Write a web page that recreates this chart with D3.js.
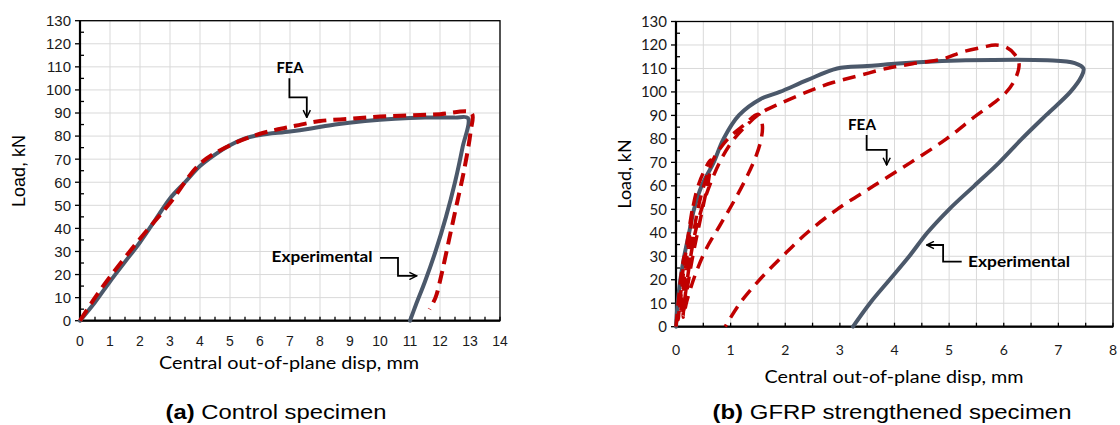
<!DOCTYPE html>
<html>
<head>
<meta charset="utf-8">
<script src="https://cdn.jsdelivr.net/npm/d3@7"></script>
<style>
  body { margin: 0; background: #fff; }
  svg { display: block; }
</style>
</head>
<body>
<svg id="fig" width="1120" height="425"></svg>
<script>
// ---- data ----
// (a) control specimen
const ctrlExpX = [0, 0.5, 1, 1.5, 2, 2.5, 3, 3.5, 4, 4.5, 5, 5.5, 6, 7, 7.7, 8.5, 9.5, 10.5, 11.5, 12.5, 12.93, 12.75, 12.5, 12.2, 11.85, 11.5, 11.2, 11.0];
const ctrlExpY = [0, 8, 17, 25.5, 34, 43.5, 53, 60, 67, 72, 76, 79, 80.5, 82, 83.3, 85, 86.5, 87.5, 88, 88, 87.8, 75, 60, 45, 30, 17, 7, 0];
const ctrlFeaX = [0, 0.5, 1, 2, 3, 4, 5, 6, 7, 8, 9, 10, 11, 12, 13.05, 13.02, 12.8, 12.55, 12.3, 12.05, 11.85, 11.65];
const ctrlFeaY = [0, 10, 19, 35.5, 51, 68, 76, 81, 84, 86.5, 87.5, 88.5, 89, 89.5, 90, 82, 65, 50, 35, 20, 10, 5];

// (b) GFRP strengthened specimen
const gfrpExpX = [0, 0.03, 0.08, 0.15, 0.24, 0.33, 0.47, 0.69, 0.87, 1.15, 1.55, 1.9, 2.4, 2.95, 3.5, 4, 4.7, 5.3, 6.8, 7.3, 7.46, 7.42, 7.22, 6.77, 6.33, 5.92, 5.46, 5.0, 4.6, 4.27, 3.91, 3.55, 3.24];
const gfrpExpY = [0, 10, 20, 30, 40, 50, 60, 70, 80, 90, 97, 100, 105, 110, 111, 112, 113, 113.5, 113.5, 112.3, 110, 106.5, 100, 90, 80, 70, 60, 50, 40, 30, 20, 10, 0];
const gfrpFeaX = [0, 0.06, 0.1, 0.15, 0.11, 0.07, 0.04,
  0.1, 0.17, 0.23, 0.3, 0.26, 0.2, 0.14, 0.08,
  0.15, 0.24, 0.32, 0.42, 0.55, 0.63, 0.6, 0.52, 0.43, 0.34, 0.26, 0.19, 0.13,
  0.25, 0.4, 0.55, 0.7, 0.95, 1.25, 1.5, 1.58, 1.56, 1.47, 1.3, 1.05, 0.8, 0.55, 0.35, 0.2, 0.13,
  0.35, 0.7, 1.0, 1.3, 1.55, 1.9, 2.4, 2.87, 3.36, 3.85, 4.33, 4.88, 5.24, 5.61, 5.85, 6.05, 6.2, 6.28, 6.22, 6.05, 5.8, 5.5, 4.95, 4.3, 3.62, 2.95, 2.4, 1.95, 1.53, 1.17, 0.9];
const gfrpFeaY = [0, 15, 23, 30, 20, 10, 3,
  15, 30, 40, 50, 40, 28, 16, 5,
  20, 38, 52, 61, 68, 71, 63, 54, 44, 34, 24, 14, 5,
  28, 50, 63, 72, 80, 86, 90.5, 86, 80, 73, 64, 53, 43, 33, 22, 11, 4,
  40, 65, 78, 86, 91, 95, 100, 104, 107, 110, 112, 114, 117, 119, 120, 119, 116, 112, 106, 100, 95, 90, 80, 70, 60, 50, 40, 30, 20, 10, 0];

const yTicks = d3.range(0, 131, 10);
const ctrlXTicks = d3.range(0, 15, 1);
const gfrpXTicks = d3.range(0, 9, 1);

const GREY = "#4b586a", RED = "#c00000";
const svg = d3.select("#fig");

svg.append("defs").append("marker")
    .attr("id", "arr")
    .attr("viewBox", "0 0 10 10")
    .attr("refX", 9).attr("refY", 5)
    .attr("markerWidth", 9).attr("markerHeight", 9)
    .attr("markerUnits", "userSpaceOnUse")
    .attr("orient", "auto")
  .append("path")
    .attr("d", "M1,1 L9,5 L1,9")
    .attr("fill", "none")
    .attr("stroke", "#000")
    .attr("stroke-width", 1.6);

function drawChart(cfg) {
  const x = d3.scaleLinear().domain(cfg.xDomain).range(cfg.xRange);
  const y = d3.scaleLinear().domain([0, 130]).range(cfg.yRange);
  const g = svg.append("g");
  const [x0, x1] = cfg.xRange, [y0, y1] = cfg.yRange;

  // grid
  g.append("g").selectAll("line").data(d3.range(cfg.xDomain[0], cfg.xDomain[1] + 1e-9, cfg.gridStep))
    .join("line")
    .attr("x1", d => x(d)).attr("x2", d => x(d))
    .attr("y1", y0).attr("y2", y1)
    .attr("stroke", "#d9d9d9").attr("stroke-width", 1);
  g.append("g").selectAll("line").data(yTicks)
    .join("line")
    .attr("x1", x0).attr("x2", x1)
    .attr("y1", d => y(d)).attr("y2", d => y(d))
    .attr("stroke", "#d9d9d9").attr("stroke-width", 1);

  // frame
  g.append("rect")
    .attr("x", x0).attr("y", y1)
    .attr("width", x1 - x0).attr("height", y0 - y1)
    .attr("fill", "none").attr("stroke", "#000").attr("stroke-width", 1.3);

  // bottom ticks (inside, every half step)
  g.append("g").selectAll("line").data(d3.range(cfg.xDomain[0], cfg.xDomain[1] + 1e-9, cfg.tickStep))
    .join("line")
    .attr("x1", d => x(d)).attr("x2", d => x(d))
    .attr("y1", y0).attr("y2", y0 - 4)
    .attr("stroke", "#000").attr("stroke-width", 1.3);
  // left ticks: major outside, minor inside
  g.append("g").selectAll("line").data(yTicks)
    .join("line")
    .attr("x1", x0 - 5).attr("x2", x0)
    .attr("y1", d => y(d)).attr("y2", d => y(d))
    .attr("stroke", "#000").attr("stroke-width", 1.3);
  g.append("g").selectAll("line").data(d3.range(5, 130, 10))
    .join("line")
    .attr("x1", x0).attr("x2", x0 + 4)
    .attr("y1", d => y(d)).attr("y2", d => y(d))
    .attr("stroke", "#000").attr("stroke-width", 1.3);

  // axis lines
  g.append("line").attr("x1", x0).attr("x2", x1).attr("y1", y0).attr("y2", y0)
    .attr("stroke", "#000").attr("stroke-width", 2.2);
  g.append("line").attr("x1", x0).attr("x2", x0).attr("y1", y0).attr("y2", y1)
    .attr("stroke", "#000").attr("stroke-width", 2.2);

  // tick labels
  g.append("g").selectAll("text").data(yTicks)
    .join("text")
    .attr("x", x0 - 9).attr("y", d => y(d)).attr("dy", "0.36em")
    .attr("text-anchor", "end")
    .style("font-family", cfg.tickFont).style("font-size", cfg.yTickSize)
    .attr("fill", "#1a1a1a")
    .text(d => d);
  g.append("g").selectAll("text").data(cfg.xTicks)
    .join("text")
    .attr("x", d => x(d)).attr("y", cfg.xLabelY).attr("dy", "0.36em")
    .attr("text-anchor", "middle")
    .style("font-family", cfg.xTickFont).style("font-size", cfg.xTickSize)
    .attr("fill", "#1a1a1a")
    .text(d => d);

  // axis titles
  g.append("text")
    .attr("x", cfg.xTitle[0]).attr("y", cfg.xTitle[1]).attr("dy", "0.36em")
    .attr("text-anchor", "middle")
    .attr("textLength", cfg.xTitle[2]).attr("lengthAdjust", "spacingAndGlyphs")
    .style("font-family", "Lato, 'Open Sans', sans-serif").style("font-size", "18px")
    .text("Central out-of-plane disp, mm");
  g.append("text")
    .attr("transform", `translate(${cfg.yTitle[0]},${cfg.yTitle[1]}) rotate(-90)`)
    .attr("dy", "0.36em")
    .attr("text-anchor", "middle")
    .style("font-family", cfg.yTitleFont).style("font-size", "18px")
    .text("Load, kN");

  // caption
  const cap = g.append("text")
    .attr("x", cfg.caption[0]).attr("y", cfg.caption[1])
    .attr("text-anchor", "middle")
    .attr("textLength", cfg.caption[2]).attr("lengthAdjust", "spacingAndGlyphs")
    .style("font-family", "'Liberation Sans', Arial, sans-serif").style("font-size", "21px");
  cap.append("tspan").style("font-weight", "bold").text(cfg.captionTag);
  cap.append("tspan").text(cfg.captionText);

  // curves
  const line = d3.line().x(d => x(d[0])).y(d => y(d[1])).curve(d3.curveCatmullRom.alpha(0.5));
  const plot = g.append("g");
  plot.append("path")
    .datum(d3.zip(cfg.expX, cfg.expY))
    .attr("d", line)
    .attr("fill", "none").attr("stroke", GREY)
    .attr("stroke-width", 4).attr("stroke-linejoin", "round").attr("stroke-linecap", "round");
  plot.append("path")
    .datum(d3.zip(cfg.feaX, cfg.feaY))
    .attr("d", line)
    .attr("fill", "none").attr("stroke", RED)
    .attr("stroke-width", cfg.feaWidth)
    .attr("stroke-dasharray", cfg.dash);

  // annotations
  const annFont = "'Lato', 'Open Sans', sans-serif";
  cfg.notes.forEach(n => {
    g.append("text")
      .attr("x", x(n.at[0])).attr("y", y(n.at[1])).attr("dy", "0.36em")
      .attr("text-anchor", "middle")
      .attr("textLength", n.len).attr("lengthAdjust", "spacingAndGlyphs")
      .style("font-family", annFont).style("font-size", "15px").style("font-weight", "bold")
      .text(n.label);
    g.append("path")
      .attr("d", d3.line().x(p => x(p[0])).y(p => y(p[1]))(n.arrow))
      .attr("fill", "none").attr("stroke", "#000").attr("stroke-width", 1.8)
      .attr("marker-end", "url(#arr)");
  });
}

drawChart({
  xDomain: [0, 14], xRange: [80, 500], yRange: [320.7, 20.7],
  gridStep: 1, tickStep: 0.5, xTicks: ctrlXTicks,
  tickFont: "'Liberation Sans', Arial, sans-serif", yTickSize: "15px",
  xTickFont: "'Liberation Sans', Arial, sans-serif", xTickSize: "14px", xLabelY: 340.5,
  xTitle: [289, 363, 260], yTitle: [18.5, 171], yTitleFont: "'Liberation Sans', Arial, sans-serif",
  caption: [276, 418.5, 221], captionTag: "(a)", captionText: " Control specimen",
  expX: ctrlExpX, expY: ctrlExpY, feaX: ctrlFeaX, feaY: ctrlFeaY,
  feaWidth: 4, dash: "13,7",
  notes: [
    { label: "FEA", at: [7.0, 109.6], len: 27, arrow: [[6.98, 105.1], [6.98, 96.8], [7.56, 96.8], [7.56, 88.1]] },
    { label: "Experimental", at: [8.07, 27.7], len: 101, arrow: [[10.0, 27.2], [10.6, 27.2], [10.6, 19.4], [11.22, 19.4]] }
  ]
});

drawChart({
  xDomain: [0, 8], xRange: [676, 1113], yRange: [326.7, 21.5],
  gridStep: 0.5, tickStep: 0.5, xTicks: gfrpXTicks,
  tickFont: "Lato, 'Open Sans', sans-serif", yTickSize: "15px",
  xTickFont: "Lato, 'Open Sans', sans-serif", xTickSize: "14px", xLabelY: 350,
  xTitle: [894, 377, 259], yTitle: [625, 174], yTitleFont: "Lato, 'Open Sans', sans-serif",
  caption: [892, 419, 359], captionTag: "(b)", captionText: " GFRP strengthened specimen",
  expX: gfrpExpX, expY: gfrpExpY, feaX: gfrpFeaX, feaY: gfrpFeaY,
  feaWidth: 3.5, dash: "13,8",
  notes: [
    { label: "FEA", at: [3.405, 86.2], len: 28, arrow: [[3.49, 81.65], [3.49, 75.3], [3.857, 75.3], [3.857, 68.9]] },
    { label: "Experimental", at: [6.28, 27.7], len: 102, arrow: [[5.23, 27.7], [4.89, 27.7], [4.89, 34.8], [4.59, 34.8]] }
  ]
});
</script>
</body>
</html>
